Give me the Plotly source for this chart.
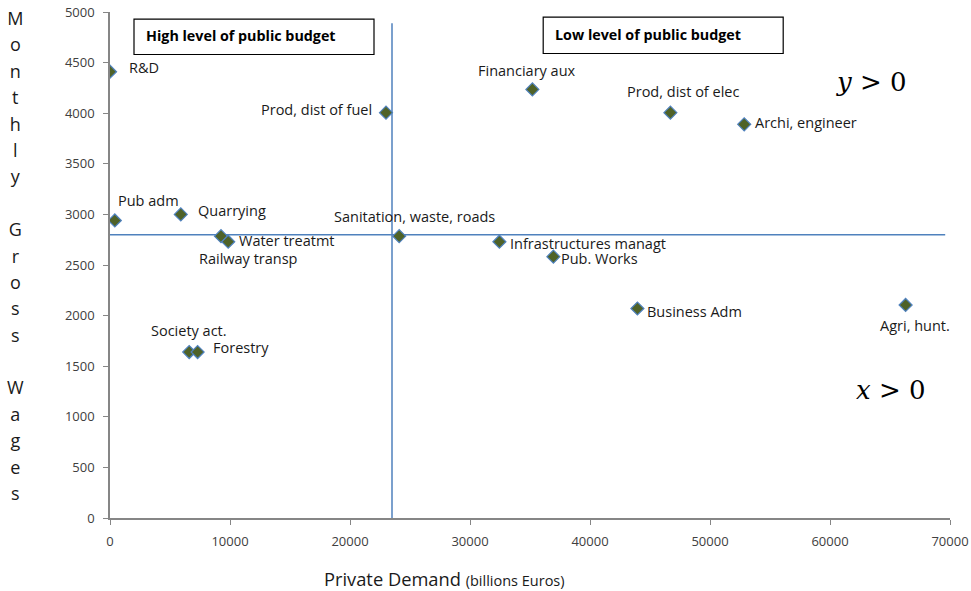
import plotly.graph_objects as go

# ---- data ----
sectors = ["R&D", "Prod, dist of fuel", "Pub adm", "Quarrying", "Railway transp",
           "Water treatmt", "Sanitation, waste, roads", "Society act.", "Forestry",
           "Financiary aux", "Prod, dist of elec", "Archi, engineer",
           "Infrastructures managt", "Pub. Works", "Business Adm", "Agri, hunt."]
private_demand = [0, 23000, 400, 5900, 9250, 9850, 24100, 6600, 7300,
                  35200, 46700, 52850, 32450, 36950, 43950, 66300]
monthly_wages = [4410, 4005, 2940, 3000, 2785, 2730, 2785, 1640, 1640,
                 4235, 4005, 3890, 2730, 2582, 2070, 2105]

x_ticks = [0, 10000, 20000, 30000, 40000, 50000, 60000, 70000]
y_ticks = [0, 500, 1000, 1500, 2000, 2500, 3000, 3500, 4000, 4500, 5000]

split_x = 23500       # vertical separator (private demand)
split_y = 2800        # horizontal separator (wages)

# ---- label placement (style): xanchor, xshift px, yshift px ----
label_pos = {
    "R&D": ("left", 17, 4),
    "Prod, dist of fuel": ("right", -12, 3),
    "Pub adm": ("left", 1, 20),
    "Quarrying": ("left", 15, 4),
    "Railway transp": ("left", -24, -22),
    "Water treatmt": ("left", 9, 1),
    "Sanitation, waste, roads": ("center", 15, 20),
    "Society act.": ("center", 0, 22),
    "Forestry": ("left", 13, 5),
    "Financiary aux": ("center", -5, 19),
    "Prod, dist of elec": ("center", 13, 21),
    "Archi, engineer": ("left", 9, 2),
    "Infrastructures managt": ("left", 9, -2),
    "Pub. Works": ("left", 6, -2),
    "Business Adm": ("left", 8, -3),
    "Agri, hunt.": ("center", 9, -21),
}

FONT = "'Open Sans', 'Noto Sans', sans-serif"
LINE = "#4F81BD"
AXIS = "#868686"
TXT = "#1a1a1a"

fig = go.Figure()
fig.add_trace(go.Scatter(
    x=private_demand, y=monthly_wages, mode="markers",
    marker=dict(symbol="diamond", size=10, color="#4F6228",
                line=dict(color=LINE, width=1.2)),
    showlegend=False, hoverinfo="text", text=sectors,
))

annotations = []
for name, xv, yv in zip(sectors, private_demand, monthly_wages):
    xa, dx, dy = label_pos[name]
    annotations.append(dict(x=xv, y=yv, xref="x", yref="y", text=name,
                            showarrow=False, xanchor=xa, yanchor="middle",
                            xshift=dx, yshift=dy,
                            font=dict(family=FONT, size=14.5, color=TXT)))

# Quadrant boxes
boxes = [
    ("High level of public budget", 2000, 22000, 4580, 4930),
    ("Low level of public budget", 36100, 56100, 4590, 4950),
]
shapes = []
for txt, x0, x1, y0, y1 in boxes:
    shapes.append(dict(type="rect", xref="x", yref="y", x0=x0, x1=x1, y0=y0, y1=y1,
                       line=dict(color="#000000", width=1.2), fillcolor="white", layer="above"))
    annotations.append(dict(x=x0, y=(y0 + y1) / 2, xref="x", yref="y", text="<b>" + txt + "</b>",
                            showarrow=False, xanchor="left", yanchor="middle", xshift=10, yshift=1,
                            font=dict(family=FONT, size=14.3, color="#000000")))

# separator lines
shapes.append(dict(type="line", xref="x", yref="y", x0=split_x, x1=split_x, y0=0, y1=4890,
                   line=dict(color=LINE, width=1.5), layer="below"))
shapes.append(dict(type="line", xref="x", yref="y", x0=0, x1=69600, y0=split_y, y1=split_y,
                   line=dict(color=LINE, width=1.5), layer="below"))

# math labels
annotations.append(dict(x=0.907, y=0.862, xref="paper", yref="paper", text="<i>y</i> > 0",
                        showarrow=False, xanchor="center", yanchor="middle",
                        font=dict(family="'DejaVu Serif', serif", size=26, color="#000000")))
annotations.append(dict(x=0.93, y=0.253, xref="paper", yref="paper", text="<i>x</i> > 0",
                        showarrow=False, xanchor="center", yanchor="middle",
                        font=dict(family="'DejaVu Serif', serif", size=26, color="#000000")))

# axis titles
ytitle = "Monthly Gross Wages"
ytitle_html = "<br>".join("<span style='font-size:18px'>%s</span>" % ch if ch != " " else " "
                          for ch in ytitle)
annotations.append(dict(x=-0.113, y=0.518, xref="paper", yref="paper", text=ytitle_html,
                        showarrow=False, xanchor="center", yanchor="middle", align="center",
                        font=dict(family=FONT, size=20.3, color=TXT)))
annotations.append(dict(x=0.398, y=-0.1186, xref="paper", yref="paper",
                        text="Private Demand <span style='font-size:14.5px'>(billions Euros)</span>",
                        showarrow=False, xanchor="center", yanchor="middle",
                        font=dict(family=FONT, size=18.3, color=TXT)))

fig.update_layout(
    width=971, height=591,
    margin=dict(l=110, r=21, t=12, b=73, autoexpand=False),
    paper_bgcolor="white", plot_bgcolor="white",
    shapes=shapes, annotations=annotations,
    xaxis=dict(range=[0, 70000], tickvals=x_ticks, ticktext=[str(v) for v in x_ticks],
               showgrid=False, zeroline=False, showline=True, linecolor=AXIS, linewidth=1.5,
               ticks="outside", ticklen=5, tickcolor=AXIS, tickwidth=1, automargin=False,
               ticklabeloverflow="allow",
               tickfont=dict(family=FONT, size=13, color="#404040"), ticklabelstandoff=6),
    yaxis=dict(range=[0, 5000], tickvals=y_ticks, ticktext=[str(v) for v in y_ticks],
               showgrid=False, zeroline=False, showline=True, linecolor=AXIS, linewidth=1.5,
               ticks="outside", ticklen=5, tickcolor=AXIS, tickwidth=1, automargin=False,
               ticklabeloverflow="allow",
               tickfont=dict(family=FONT, size=13, color="#404040"), ticklabelstandoff=6),
)

# remove the default 8px page margin so the 971x591 figure fills the window exactly
fig.write_html("out.html", config={"displayModeBar": False},
               post_script="document.body.style.margin='0';document.body.style.overflow='hidden';")
